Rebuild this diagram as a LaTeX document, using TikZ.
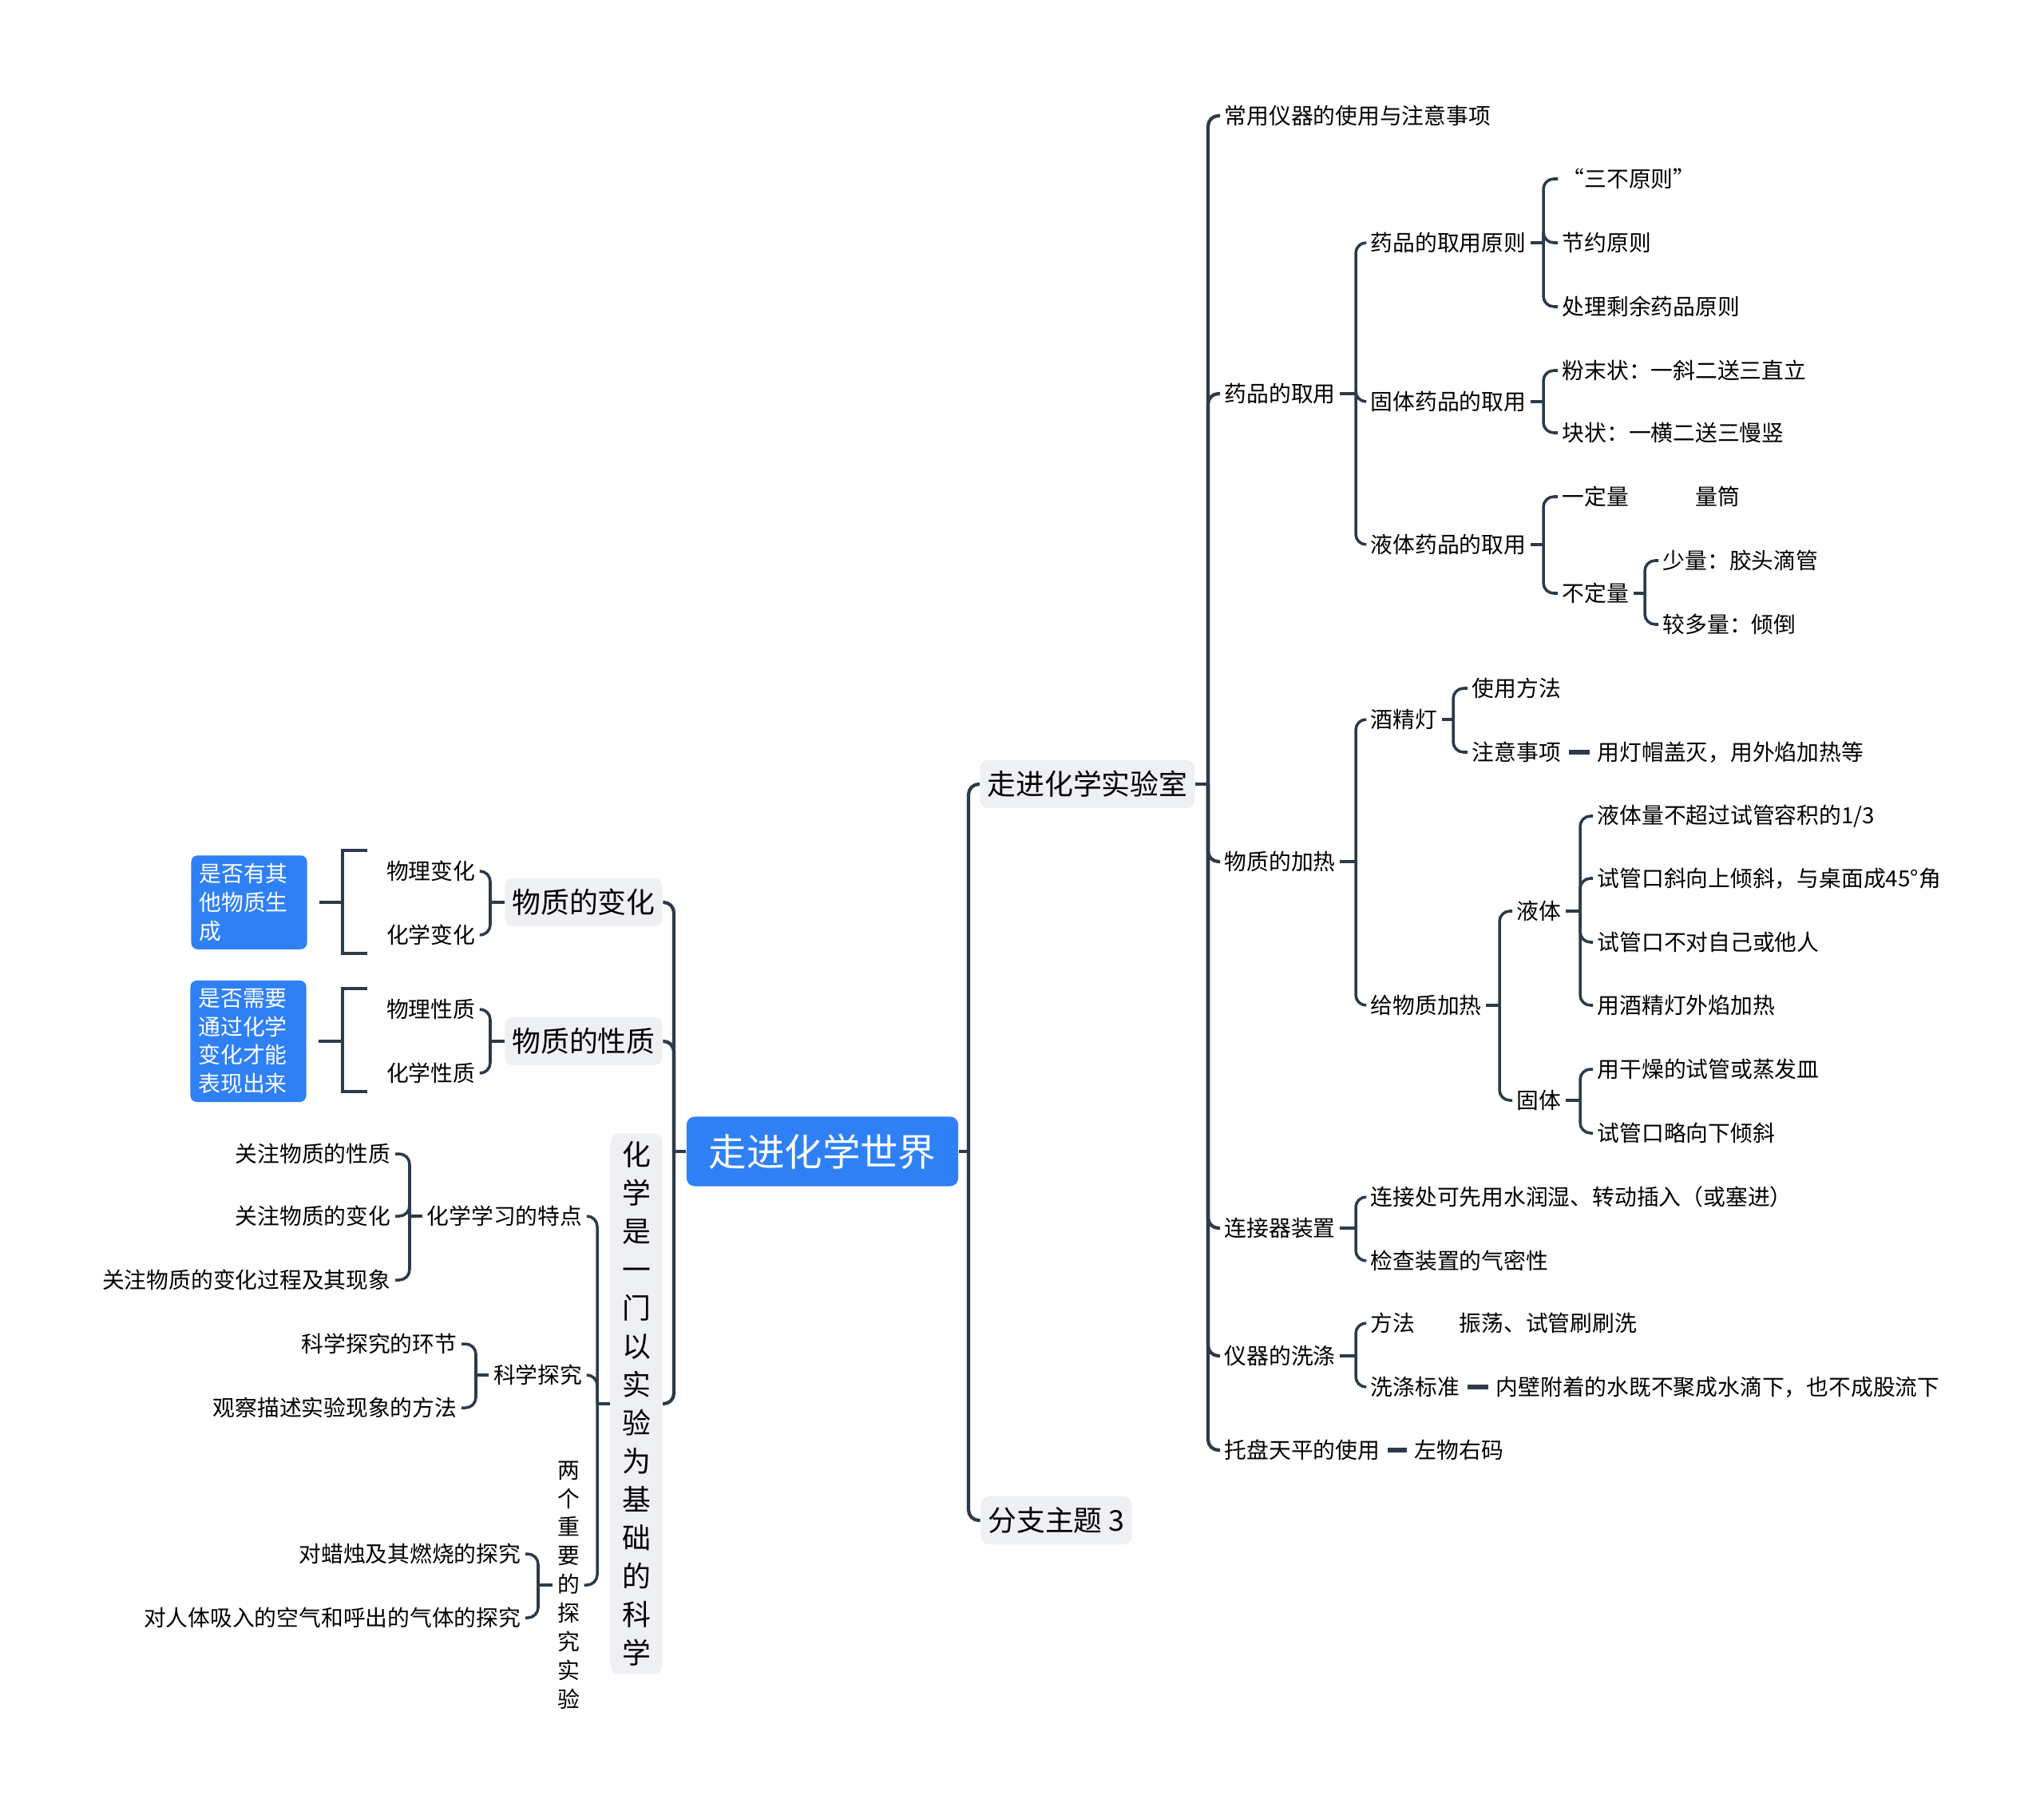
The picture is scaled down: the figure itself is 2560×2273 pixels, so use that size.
\documentclass[tikz,border=0pt]{standalone}
\usepackage{fontspec}
\setmainfont{Noto Sans CJK SC}
\usepackage{xcolor}
\usepackage{tikz}
\usetikzlibrary{calc}

\definecolor{linegray}{HTML}{2D3A4A}
\definecolor{topicfill}{HTML}{EEF0F4}
\definecolor{rootblue}{HTML}{2F80F5}

\newcommand{\fRoot}{\fontsize{13.5pt}{16pt}\selectfont}
\newcommand{\fMain}{\fontsize{10.2pt}{13.66pt}\selectfont}
\newcommand{\fLeaf}{\fontsize{7.9pt}{10.2pt}\selectfont}

\begin{document}
\begin{tikzpicture}[x=0.01cm, y=-0.01cm,
    root/.style={fill=rootblue, text=white, rounded corners=0.1cm, font=\fRoot, minimum width=3.4cm, minimum height=0.87cm},
    topic/.style={fill=topicfill, rounded corners=0.1cm, font=\fMain, inner xsep=0.09cm, minimum height=0.6cm},
    vtopic/.style={topic, align=center, minimum width=0.65cm, inner ysep=0.1cm},
    leaf/.style={font=\fLeaf, inner xsep=0.05cm, inner ysep=0.03cm},
    vleaf/.style={leaf, align=center},
    note/.style={fill=rootblue, text=white, rounded corners=0.08cm, font=\fLeaf, align=left, text width=1.25cm, inner xsep=0.1cm, inner ysep=0.1cm},
    conn/.style={draw=linegray, line width=1pt, rounded corners=0.13cm},
    trunk/.style={conn, line width=1.2pt},
    linkbar/.style={draw=linegray, line width=1.6pt, shorten <=0.04cm, shorten >=0.04cm},
    bracket/.style={draw=linegray, line width=1.1pt},
]
    \path[fill=white, use as bounding box] (0,0) rectangle (2560,2273);

    \node[root] (root) at (1030,1442) {走进化学世界};

    % right side
    \node[topic] (lab) at (1362,982) {走进化学实验室};
    \node[topic] (sub3) at (1323,1904) {分支主题 3};

    \node[leaf, anchor=west] (yiqi) at (1528,145) {常用仪器的使用与注意事项};
    \node[leaf, anchor=west] (quyong) at (1528,493) {药品的取用};
    \node[leaf, anchor=west] (jiare) at (1528,1079) {物质的加热};
    \node[leaf, anchor=west] (lianjie) at (1528,1538) {连接器装置};
    \node[leaf, anchor=west] (xidi) at (1528,1698) {仪器的洗涤};
    \node[leaf, anchor=west] (tianping) at (1528,1816) {托盘天平的使用};
    \node[leaf, anchor=west] (zuowu) at (1766,1816) {左物右码};

    \node[leaf, anchor=west] (yuanze) at (1711,304) {药品的取用原则};
    \node[leaf, anchor=west] (guti) at (1711,503) {固体药品的取用};
    \node[leaf, anchor=west] (yeti) at (1711,682) {液体药品的取用};

    \node[leaf, anchor=west] (sanbu) at (1951,224) {“三不原则”};
    \node[leaf, anchor=west] (jieyue) at (1951,304) {节约原则};
    \node[leaf, anchor=west] (chuli) at (1951,384) {处理剩余药品原则};
    \node[leaf, anchor=west] (fenmo) at (1951,464) {粉末状：一斜二送三直立};
    \node[leaf, anchor=west] (kuai) at (1951,542) {块状：一横二送三慢竖};
    \node[leaf, anchor=west] (dingliang) at (1951,622) {一定量\hspace{3em}量筒};
    \node[leaf, anchor=west] (buding) at (1951,743) {不定量};
    \node[leaf, anchor=west] (shaoliang) at (2077,702) {少量：胶头滴管};
    \node[leaf, anchor=west] (jiaoduo) at (2077,782) {较多量：倾倒};

    \node[leaf, anchor=west] (jiujing) at (1711,901) {酒精灯};
    \node[leaf, anchor=west] (shiyong) at (1838,862) {使用方法};
    \node[leaf, anchor=west] (zhuyi) at (1838,942) {注意事项};
    \node[leaf, anchor=west] (miedeng) at (1995,942) {用灯帽盖灭，用外焰加热等};
    \node[leaf, anchor=west] (geiwu) at (1711,1259) {给物质加热};
    \node[leaf, anchor=west] (yeti2) at (1894,1141) {液体};
    \node[leaf, anchor=west] (ye1) at (1995,1022) {液体量不超过试管容积的1/3};
    \node[leaf, anchor=west] (ye2) at (1995,1100) {试管口斜向上倾斜，与桌面成45°角};
    \node[leaf, anchor=west] (ye3) at (1995,1180) {试管口不对自己或他人};
    \node[leaf, anchor=west] (ye4) at (1995,1259) {用酒精灯外焰加热};
    \node[leaf, anchor=west] (guti2) at (1894,1378) {固体};
    \node[leaf, anchor=west] (gu1) at (1995,1339) {用干燥的试管或蒸发皿};
    \node[leaf, anchor=west] (gu2) at (1995,1419) {试管口略向下倾斜};

    \node[leaf, anchor=west] (lj1) at (1711,1499) {连接处可先用水润湿、转动插入（或塞进）};
    \node[leaf, anchor=west] (lj2) at (1711,1579) {检查装置的气密性};
    \node[leaf, anchor=west] (fangfa) at (1711,1657) {方法\hspace{2em}振荡、试管刷刷洗};
    \node[leaf, anchor=west] (biaozhun) at (1711,1737) {洗涤标准};
    \node[leaf, anchor=west] (neibi) at (1868,1737) {内壁附着的水既不聚成水滴下，也不成股流下};

    % left side
    \node[topic] (bianhua) at (731,1130) {物质的变化};
    \node[topic] (xingzhi) at (731,1304) {物质的性质};
    \node[vtopic] (kexue) at (797,1758) {化\\学\\是\\一\\门\\以\\实\\验\\为\\基\\础\\的\\科\\学};

    \node[leaf, anchor=east] (wuli1) at (601,1091) {物理变化};
    \node[leaf, anchor=east] (huaxue1) at (601,1171) {化学变化};
    \node[leaf, anchor=east] (wuli2) at (601,1264) {物理性质};
    \node[leaf, anchor=east] (huaxue2) at (601,1344) {化学性质};
    \node[note] (note1) at (312,1130) {是否有其\\他物质生\\成};
    \node[note] (note2) at (311,1304) {是否需要\\通过化学\\变化才能\\表现出来};

    \node[leaf, anchor=east] (tedian) at (735,1523) {化学学习的特点};
    \node[leaf, anchor=east] (gz1) at (495,1445) {关注物质的性质};
    \node[leaf, anchor=east] (gz2) at (495,1523) {关注物质的变化};
    \node[leaf, anchor=east] (gz3) at (495,1603) {关注物质的变化过程及其现象};
    \node[leaf, anchor=east] (tanjiu) at (735,1722) {科学探究};
    \node[leaf, anchor=east] (tj1) at (578,1683) {科学探究的环节};
    \node[leaf, anchor=east] (tj2) at (578,1763) {观察描述实验现象的方法};
    \node[vleaf] (liangge) at (712,1985) {两\\个\\重\\要\\的\\探\\究\\实\\验};
    \node[leaf, anchor=east] (lz1) at (658,1946) {对蜡烛及其燃烧的探究};
    \node[leaf, anchor=east] (lz2) at (658,2026) {对人体吸入的空气和呼出的气体的探究};

    % junctions
    \coordinate (rootR) at (1213,1442);
    \coordinate (rootL) at (844,1442);
    \coordinate (labJ) at (1513,982);
    \coordinate (quyongJ) at (1698,493);
    \coordinate (yuanzeJ) at (1933,304);
    \coordinate (gutiJ) at (1933,503);
    \coordinate (yetiJ) at (1933,682);
    \coordinate (budingJ) at (2060,743);
    \coordinate (jiareJ) at (1698,1079);
    \coordinate (jiujingJ) at (1820,901);
    \coordinate (geiwuJ) at (1878,1259);
    \coordinate (yeti2J) at (1979,1141);
    \coordinate (guti2J) at (1979,1378);
    \coordinate (lianjieJ) at (1698,1538);
    \coordinate (xidiJ) at (1698,1698);
    \coordinate (bianhuaJ) at (614,1130);
    \coordinate (xingzhiJ) at (614,1304);
    \coordinate (kexueJ) at (748,1758);
    \coordinate (tedianJ) at (513,1523);
    \coordinate (tanjiuJ) at (596,1722);
    \coordinate (lianggeJ) at (674,1985);
    \coordinate (brk1) at (429,1130);
    \coordinate (brk2) at (429,1304);

    \draw[trunk] (root.east) -- (rootR);
    \draw[trunk] (rootR) |- (lab.west);
    \draw[trunk] (rootR) |- (sub3.west);
    \draw[trunk] (root.west) -- (rootL);
    \draw[trunk] (rootL) |- (bianhua.east);
    \draw[trunk] (rootL) |- (xingzhi.east);
    \draw[trunk] (rootL) |- (kexue.east);

    \draw[trunk] (lab.east) -- (labJ);
    \draw[trunk] (labJ) |- (yiqi.west);
    \draw[trunk] (labJ) |- (quyong.west);
    \draw[trunk] (labJ) |- (jiare.west);
    \draw[trunk] (labJ) |- (lianjie.west);
    \draw[trunk] (labJ) |- (xidi.west);
    \draw[trunk] (labJ) |- (tianping.west);
    \draw[linkbar] (tianping.east) -- (zuowu.west);

    \draw[conn] (quyong.east) -- (quyongJ);
    \draw[conn] (quyongJ) |- (yuanze.west);
    \draw[conn] (quyongJ) |- (guti.west);
    \draw[conn] (quyongJ) |- (yeti.west);
    \draw[conn] (yuanze.east) -- (yuanzeJ);
    \draw[conn] (yuanzeJ) |- (sanbu.west);
    \draw[conn] (yuanzeJ) |- (jieyue.west);
    \draw[conn] (yuanzeJ) |- (chuli.west);
    \draw[conn] (guti.east) -- (gutiJ);
    \draw[conn] (gutiJ) |- (fenmo.west);
    \draw[conn] (gutiJ) |- (kuai.west);
    \draw[conn] (yeti.east) -- (yetiJ);
    \draw[conn] (yetiJ) |- (dingliang.west);
    \draw[conn] (yetiJ) |- (buding.west);
    \draw[conn] (buding.east) -- (budingJ);
    \draw[conn] (budingJ) |- (shaoliang.west);
    \draw[conn] (budingJ) |- (jiaoduo.west);

    \draw[conn] (jiare.east) -- (jiareJ);
    \draw[conn] (jiareJ) |- (jiujing.west);
    \draw[conn] (jiareJ) |- (geiwu.west);
    \draw[conn] (jiujing.east) -- (jiujingJ);
    \draw[conn] (jiujingJ) |- (shiyong.west);
    \draw[conn] (jiujingJ) |- (zhuyi.west);
    \draw[linkbar] (zhuyi.east) -- (miedeng.west);
    \draw[conn] (geiwu.east) -- (geiwuJ);
    \draw[conn] (geiwuJ) |- (yeti2.west);
    \draw[conn] (geiwuJ) |- (guti2.west);
    \draw[conn] (yeti2.east) -- (yeti2J);
    \draw[conn] (yeti2J) |- (ye1.west);
    \draw[conn] (yeti2J) |- (ye2.west);
    \draw[conn] (yeti2J) |- (ye3.west);
    \draw[conn] (yeti2J) |- (ye4.west);
    \draw[conn] (guti2.east) -- (guti2J);
    \draw[conn] (guti2J) |- (gu1.west);
    \draw[conn] (guti2J) |- (gu2.west);

    \draw[conn] (lianjie.east) -- (lianjieJ);
    \draw[conn] (lianjieJ) |- (lj1.west);
    \draw[conn] (lianjieJ) |- (lj2.west);
    \draw[conn] (xidi.east) -- (xidiJ);
    \draw[conn] (xidiJ) |- (fangfa.west);
    \draw[conn] (xidiJ) |- (biaozhun.west);
    \draw[linkbar] (biaozhun.east) -- (neibi.west);

    \draw[conn] (bianhua.west) -- (bianhuaJ);
    \draw[conn] (bianhuaJ) |- (wuli1.east);
    \draw[conn] (bianhuaJ) |- (huaxue1.east);
    \draw[conn] (xingzhi.west) -- (xingzhiJ);
    \draw[conn] (xingzhiJ) |- (wuli2.east);
    \draw[conn] (xingzhiJ) |- (huaxue2.east);
    \draw[bracket] (460,1065) -- (429,1065) -- (429,1194) -- (460,1194);
    \draw[bracket] (note1.east) ++(15,0) -- (brk1);
    \draw[bracket] (460,1238) -- (429,1238) -- (429,1367) -- (460,1367);
    \draw[bracket] (note2.east) ++(15,0) -- (brk2);

    \draw[conn] (kexue.west) -- (kexueJ);
    \draw[conn] (kexueJ) |- (tedian.east);
    \draw[conn] (kexueJ) |- (tanjiu.east);
    \draw[conn] (kexueJ) |- (liangge.east);
    \draw[conn] (tedian.west) -- (tedianJ);
    \draw[conn] (tedianJ) |- (gz1.east);
    \draw[conn] (tedianJ) |- (gz2.east);
    \draw[conn] (tedianJ) |- (gz3.east);
    \draw[conn] (tanjiu.west) -- (tanjiuJ);
    \draw[conn] (tanjiuJ) |- (tj1.east);
    \draw[conn] (tanjiuJ) |- (tj2.east);
    \draw[conn] (liangge.west) -- (lianggeJ);
    \draw[conn] (lianggeJ) |- (lz1.east);
    \draw[conn] (lianggeJ) |- (lz2.east);
\end{tikzpicture}
\end{document}
